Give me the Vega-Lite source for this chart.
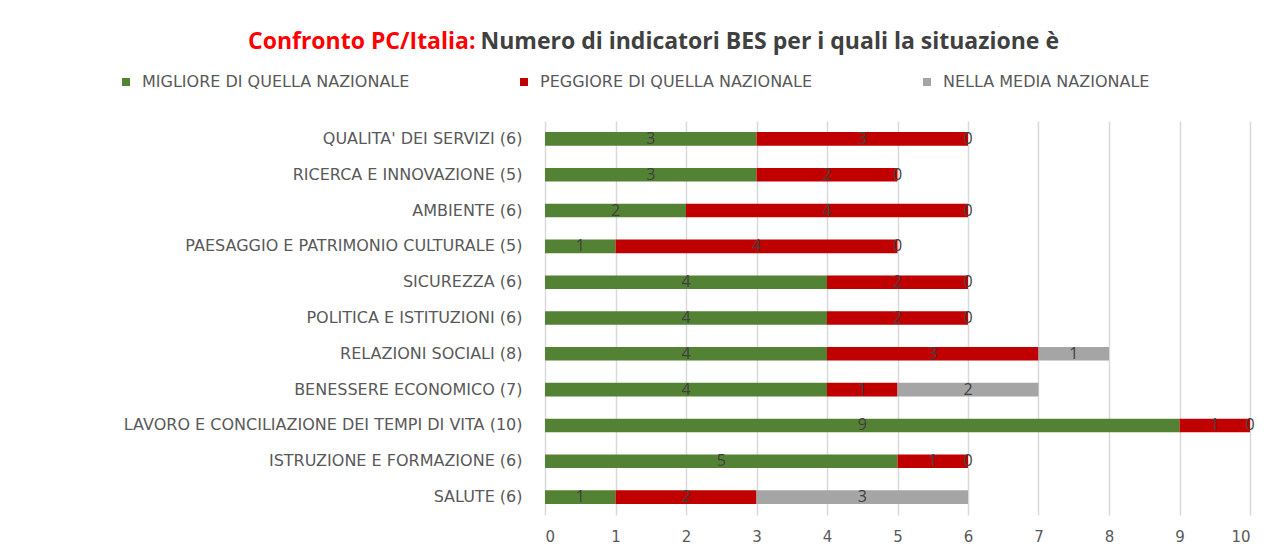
{
  "$schema": "https://vega.github.io/schema/vega-lite/v6.json",
  "autosize": {"type": "none"},
  "width": 705,
  "height": 394,
  "padding": {"left": 545, "top": 121, "right": 35, "bottom": 39},
  "background": "#FFFFFF",
  "config": {"view": {"stroke": null}},
  "data": {
    "values": [
      {"cat": "QUALITA' DEI SERVIZI (6)", "status": "MIGLIORE DI QUELLA NAZIONALE", "ord": 0, "n": 3},
      {"cat": "QUALITA' DEI SERVIZI (6)", "status": "PEGGIORE DI QUELLA NAZIONALE", "ord": 1, "n": 3},
      {"cat": "QUALITA' DEI SERVIZI (6)", "status": "NELLA MEDIA NAZIONALE", "ord": 2, "n": 0},
      {"cat": "RICERCA E INNOVAZIONE (5)", "status": "MIGLIORE DI QUELLA NAZIONALE", "ord": 0, "n": 3},
      {"cat": "RICERCA E INNOVAZIONE (5)", "status": "PEGGIORE DI QUELLA NAZIONALE", "ord": 1, "n": 2},
      {"cat": "RICERCA E INNOVAZIONE (5)", "status": "NELLA MEDIA NAZIONALE", "ord": 2, "n": 0},
      {"cat": "AMBIENTE (6)", "status": "MIGLIORE DI QUELLA NAZIONALE", "ord": 0, "n": 2},
      {"cat": "AMBIENTE (6)", "status": "PEGGIORE DI QUELLA NAZIONALE", "ord": 1, "n": 4},
      {"cat": "AMBIENTE (6)", "status": "NELLA MEDIA NAZIONALE", "ord": 2, "n": 0},
      {"cat": "PAESAGGIO E PATRIMONIO CULTURALE (5)", "status": "MIGLIORE DI QUELLA NAZIONALE", "ord": 0, "n": 1},
      {"cat": "PAESAGGIO E PATRIMONIO CULTURALE (5)", "status": "PEGGIORE DI QUELLA NAZIONALE", "ord": 1, "n": 4},
      {"cat": "PAESAGGIO E PATRIMONIO CULTURALE (5)", "status": "NELLA MEDIA NAZIONALE", "ord": 2, "n": 0},
      {"cat": "SICUREZZA (6)", "status": "MIGLIORE DI QUELLA NAZIONALE", "ord": 0, "n": 4},
      {"cat": "SICUREZZA (6)", "status": "PEGGIORE DI QUELLA NAZIONALE", "ord": 1, "n": 2},
      {"cat": "SICUREZZA (6)", "status": "NELLA MEDIA NAZIONALE", "ord": 2, "n": 0},
      {"cat": "POLITICA E ISTITUZIONI (6)", "status": "MIGLIORE DI QUELLA NAZIONALE", "ord": 0, "n": 4},
      {"cat": "POLITICA E ISTITUZIONI (6)", "status": "PEGGIORE DI QUELLA NAZIONALE", "ord": 1, "n": 2},
      {"cat": "POLITICA E ISTITUZIONI (6)", "status": "NELLA MEDIA NAZIONALE", "ord": 2, "n": 0},
      {"cat": "RELAZIONI SOCIALI (8)", "status": "MIGLIORE DI QUELLA NAZIONALE", "ord": 0, "n": 4},
      {"cat": "RELAZIONI SOCIALI (8)", "status": "PEGGIORE DI QUELLA NAZIONALE", "ord": 1, "n": 3},
      {"cat": "RELAZIONI SOCIALI (8)", "status": "NELLA MEDIA NAZIONALE", "ord": 2, "n": 1},
      {"cat": "BENESSERE ECONOMICO (7)", "status": "MIGLIORE DI QUELLA NAZIONALE", "ord": 0, "n": 4},
      {"cat": "BENESSERE ECONOMICO (7)", "status": "PEGGIORE DI QUELLA NAZIONALE", "ord": 1, "n": 1},
      {"cat": "BENESSERE ECONOMICO (7)", "status": "NELLA MEDIA NAZIONALE", "ord": 2, "n": 2},
      {"cat": "LAVORO E CONCILIAZIONE DEI TEMPI DI VITA (10)", "status": "MIGLIORE DI QUELLA NAZIONALE", "ord": 0, "n": 9},
      {"cat": "LAVORO E CONCILIAZIONE DEI TEMPI DI VITA (10)", "status": "PEGGIORE DI QUELLA NAZIONALE", "ord": 1, "n": 1},
      {"cat": "LAVORO E CONCILIAZIONE DEI TEMPI DI VITA (10)", "status": "NELLA MEDIA NAZIONALE", "ord": 2, "n": 0},
      {"cat": "ISTRUZIONE E FORMAZIONE (6)", "status": "MIGLIORE DI QUELLA NAZIONALE", "ord": 0, "n": 5},
      {"cat": "ISTRUZIONE E FORMAZIONE (6)", "status": "PEGGIORE DI QUELLA NAZIONALE", "ord": 1, "n": 1},
      {"cat": "ISTRUZIONE E FORMAZIONE (6)", "status": "NELLA MEDIA NAZIONALE", "ord": 2, "n": 0},
      {"cat": "SALUTE (6)", "status": "MIGLIORE DI QUELLA NAZIONALE", "ord": 0, "n": 1},
      {"cat": "SALUTE (6)", "status": "PEGGIORE DI QUELLA NAZIONALE", "ord": 1, "n": 2},
      {"cat": "SALUTE (6)", "status": "NELLA MEDIA NAZIONALE", "ord": 2, "n": 3}
    ]
  },
  "transform": [
    {"stack": "n", "groupby": ["cat"], "sort": [{"field": "ord", "order": "ascending"}], "as": ["v0", "v1"]}
  ],
  "encoding": {
    "y": {
      "field": "cat",
      "type": "nominal",
      "sort": ["QUALITA' DEI SERVIZI (6)", "RICERCA E INNOVAZIONE (5)", "AMBIENTE (6)", "PAESAGGIO E PATRIMONIO CULTURALE (5)", "SICUREZZA (6)", "POLITICA E ISTITUZIONI (6)", "RELAZIONI SOCIALI (8)", "BENESSERE ECONOMICO (7)", "LAVORO E CONCILIAZIONE DEI TEMPI DI VITA (10)", "ISTRUZIONE E FORMAZIONE (6)", "SALUTE (6)"],
      "scale": {"paddingInner": 0.62, "paddingOuter": 0.31},
      "axis": {
        "title": "Confronto PC/Italia:",
        "titleAngle": 0,
        "titleX": -70,
        "titleY": -73,
        "titleAlign": "right",
        "titleBaseline": "alphabetic",
        "titleFont": "Open Sans",
        "titleFontSize": 23,
        "titleFontWeight": "bold",
        "titleColor": "#FF0000",
        "domain": false,
        "ticks": false,
        "grid": false,
        "labelPadding": 23,
        "labelFont": "DejaVu Sans",
        "labelFontSize": 16,
        "labelColor": "#595959",
        "labelLimit": 600
      }
    }
  },
  "layer": [
    {
      "mark": {"type": "bar"},
      "encoding": {
        "x": {
          "field": "v0",
          "type": "quantitative",
          "scale": {"domain": [0, 10], "nice": false},
          "axis": {
            "values": [0, 1, 2, 3, 4, 5, 6, 7, 8, 9, 10],
            "domain": false,
            "ticks": false,
            "grid": true,
            "gridColor": "#D9D9D9",
            "gridWidth": 1.5,
            "labelFont": "DejaVu Sans",
            "labelFontSize": 15,
            "labelColor": "#595959",
            "labelPadding": 14,
            "title": "Numero di indicatori BES per i quali la situazione è",
            "titleX": -65,
            "titleY": -467,
            "titleAlign": "left",
            "titleAnchor": "start",
            "titleBaseline": "alphabetic",
            "titleFont": "Open Sans",
            "titleFontSize": 23,
            "titleFontWeight": "bold",
            "titleColor": "#404040"
          }
        },
        "x2": {"field": "v1"},
        "color": {
          "field": "status",
          "type": "nominal",
          "scale": {
            "domain": ["MIGLIORE DI QUELLA NAZIONALE", "PEGGIORE DI QUELLA NAZIONALE", "NELLA MEDIA NAZIONALE"],
            "range": ["#548235", "#C00000", "#A5A5A5"]
          },
          "legend": {
            "orient": "none",
            "legendX": -427,
            "legendY": -47,
            "direction": "horizontal",
            "title": null,
            "symbolType": "square",
            "symbolSize": 64,
            "symbolStrokeWidth": 0,
            "labelFont": "DejaVu Sans",
            "labelFontSize": 16,
            "labelColor": "#595959",
            "labelOffset": 8,
            "columnPadding": 106,
            "padding": 0,
            "labelLimit": 500
          }
        }
      }
    },
    {
      "transform": [
        {"fold": ["v0", "v1"], "as": ["k", "pos"]},
        {"aggregate": [{"op": "mean", "field": "pos", "as": "mid"}, {"op": "max", "field": "n", "as": "n"}], "groupby": ["cat", "status"]}
      ],
      "mark": {"type": "text", "font": "Open Sans", "fontSize": 16, "color": "#404040", "baseline": "middle", "align": "center"},
      "encoding": {
        "x": {
          "field": "mid",
          "type": "quantitative",
          "axis": {
            "values": [0, 1, 2, 3, 4, 5, 6, 7, 8, 9, 10],
            "domain": false,
            "ticks": false,
            "grid": true,
            "gridColor": "#D9D9D9",
            "gridWidth": 1.5,
            "labelFont": "DejaVu Sans",
            "labelFontSize": 15,
            "labelColor": "#595959",
            "labelPadding": 14,
            "title": "Numero di indicatori BES per i quali la situazione è",
            "titleX": -65,
            "titleY": -467,
            "titleAlign": "left",
            "titleAnchor": "start",
            "titleBaseline": "alphabetic",
            "titleFont": "Open Sans",
            "titleFontSize": 23,
            "titleFontWeight": "bold",
            "titleColor": "#404040"
          }
        },
        "text": {"field": "n", "type": "quantitative"}
      }
    }
  ]
}
